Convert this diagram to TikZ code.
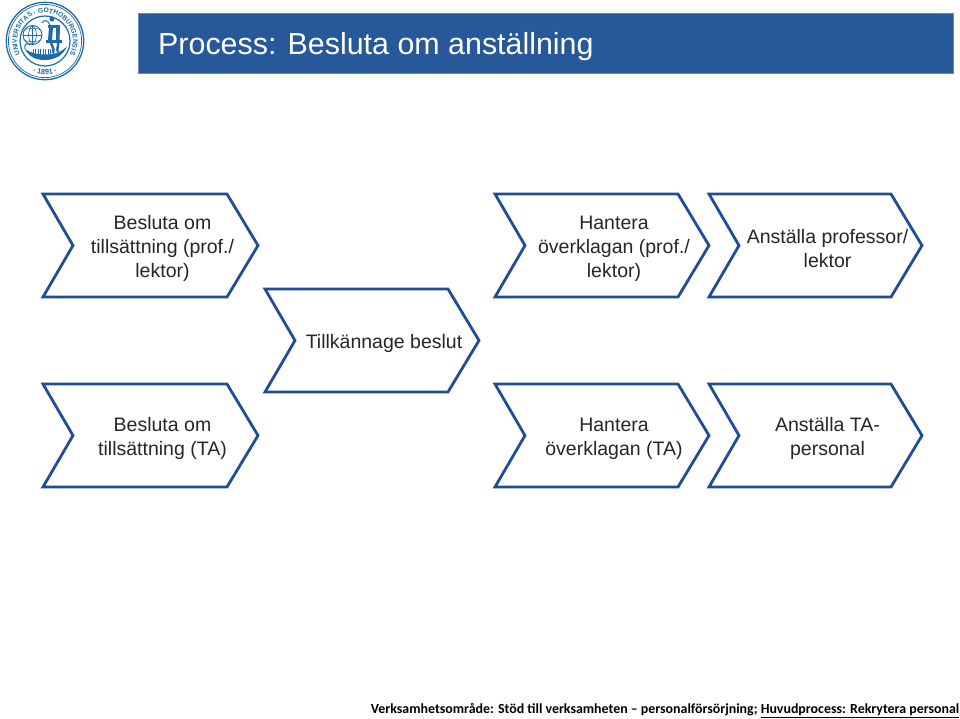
\documentclass[tikz,border=0pt]{standalone}
\usepackage{fontspec}
\setmainfont{Liberation Sans}
\newfontfamily\footfont{Carlito}
\usetikzlibrary{decorations.text}
\definecolor{gubar}{HTML}{26589A}
\definecolor{guline}{HTML}{1F4E96}
\definecolor{gulogo}{HTML}{1F6AA8}
\tikzset{
  x=1pt,y=-1pt,
  chevron/.style={draw=guline,line width=2.8pt,line join=miter,fill=white},
  chevtext/.style={align=center,font=\fontsize{19.5}{24}\selectfont,text=black!85,inner sep=0pt},
  seal/.style={draw=gulogo,fill=none},
  sealfill/.style={fill=gulogo,draw=none},
}
\newcommand{\chev}[5]{% name, left x, top y, right x, text
  \draw[chevron] (#2,#3) -- (#4-31,#3) -- (#4,#3+51.5) -- (#4-31,#3+103) -- (#2,#3+103) -- (#2+30,#3+51.5) -- cycle;
  \node[chevtext] (#1) at ({(#2+#4)/2+12},#3+54.5) {#5};
}
\begin{document}
\begin{tikzpicture}
\useasboundingbox (0,0) rectangle (960,718);
\fill[white] (0,0) rectangle (960,718);
% title bar
\node[fill=gubar,draw=gubar!70,line width=.5pt,minimum width=815pt,minimum height=60pt,inner sep=0pt,anchor=north west] (bar) at (138,13) {};
\node[anchor=west,text=white,font=\fontsize{30.4}{34}\selectfont,inner sep=0pt] (title) at (158,46.5) {Process: Besluta om anställning};
% chevrons
\chev{a}{43}{194}{258}{Besluta om\\tillsättning (prof./\\lektor)}
\chev{b}{495}{194}{709}{Hantera\\överklagan (prof./\\lektor)}
\chev{c}{709}{194}{922}{Anställa professor/\\lektor}
\chev{d}{265}{289}{479}{Tillkännage beslut}
\chev{e}{43}{384}{258}{Besluta om\\tillsättning (TA)}
\chev{f}{495}{384}{709}{Hantera\\överklagan (TA)}
\chev{g}{709}{384}{922}{Anställa TA-\\personal}
% footer
\node[anchor=east,inner sep=0pt,font=\footfont\bfseries\fontsize{13.9}{16}\selectfont] (foot) at (959.5,710.5) {Verksamhetsområde: Stöd till verksamheten – personalförsörjning; \underline{Huvudprocess: Rekrytera personal}};
% seal (local coordinates, y up, origin at its centre)
\begin{scope}[shift={(45,41)},x=1pt,y=1pt]
\draw[seal,line width=1.3pt] (0,0) circle (38.7);
\draw[seal,line width=.7pt] (0,0) circle (36.6);
\draw[seal,line width=1.2pt] (0,0) circle (25);
\path[postaction={decorate,decoration={text along path,text align=center,
  text={|\fontsize{6.7}{8}\selectfont\bfseries\color{gulogo}|UNIVERSITAS · GOTHOBURGENSIS}}}]
  (230:28) arc[start angle=230,end angle=-50,radius=28];
\path[postaction={decorate,decoration={text along path,text align=center,
  text={|\fontsize{7.4}{8}\selectfont\bfseries\color{gulogo}|· 1891 ·}}}]
  (236:33.6) arc[start angle=236,end angle=304,radius=33.6];
% globe
\draw[seal,line width=.9pt] (-12.5,6) circle (9.5);
\begin{scope}
\clip (-12.5,6) circle (9.5);
\draw[seal,line width=.6pt] (-12.5,-4) -- (-12.5,16);
\draw[seal,line width=.6pt] (-12.5,-4) .. controls (-18,2) and (-18,10) .. (-12.5,16);
\draw[seal,line width=.6pt] (-12.5,-4) .. controls (-7,2) and (-7,10) .. (-12.5,16);
\draw[seal,line width=.6pt] (-23,6) -- (-2,6);
\draw[seal,line width=.6pt] (-23,1) .. controls (-16,-1) and (-9,-1) .. (-2,1);
\draw[seal,line width=.6pt] (-23,11) .. controls (-16,13) and (-9,13) .. (-2,11);
\end{scope}
% figure
\draw[seal,line width=1pt] (-3,18) .. controls (-1,22) and (3,21) .. (5,16);
\fill[sealfill] (7,22) circle (2.6);
\fill[sealfill] (3,16) rectangle (15,13);
\fill[sealfill] (4,13) -- (8,13) -- (7,1) -- (3,1) -- cycle;
\fill[sealfill] (11,13) -- (15,13) -- (14.5,1) -- (11,1) -- cycle;
\fill[sealfill] (1,1) rectangle (17,-1.5);
\draw[gulogo,line width=2.4pt] (6,-1) .. controls (6,-5) and (10,-7) .. (8,-12);
\draw[gulogo,line width=2.4pt] (13,-1) .. controls (14,-5) and (11,-8) .. (13,-11);
% ship
\fill[sealfill] (-20,-8) .. controls (-16,-16) and (-9,-19) .. (0,-19)
  .. controls (10,-19) and (19,-14) .. (22,-5)
  .. controls (17,-11) and (10,-13.5) .. (0,-13.5)
  .. controls (-8,-13.5) and (-14,-12) .. (-20,-8) -- cycle;
\draw[seal,line width=1pt] (-20,-8) .. controls (-21,-3) and (-18,-1) .. (-15,-4);
\foreach \k in {-12,-9.5,...,8}
  \draw[seal,line width=.7pt] (\k,-8) -- (\k,-14);
\end{scope}
\end{tikzpicture}
\end{document}
